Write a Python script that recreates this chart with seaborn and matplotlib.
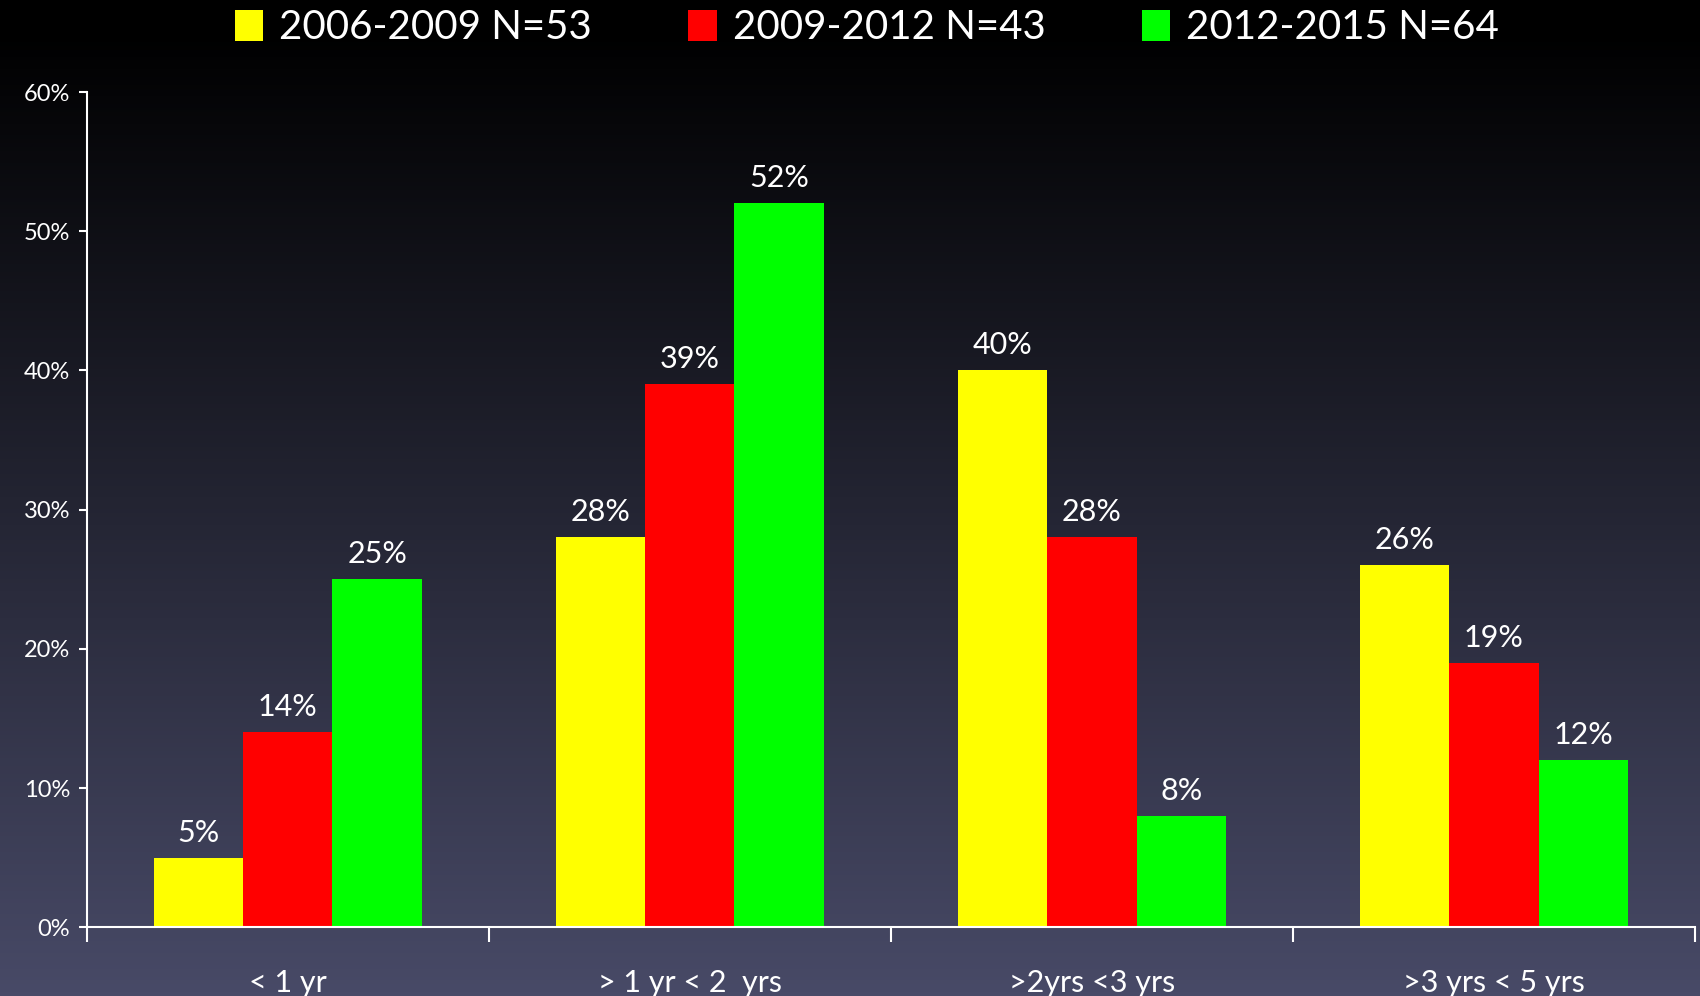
import numpy as np
import pandas as pd
import matplotlib
matplotlib.use("Agg")
import matplotlib.pyplot as plt
import seaborn as sns
from matplotlib.ticker import FixedLocator, PercentFormatter

categories = ["< 1 yr", "> 1 yr < 2  yrs", ">2yrs <3 yrs", ">3 yrs < 5 yrs"]
series_names = ["2006-2009 N=53", "2009-2012 N=43", "2012-2015 N=64"]
vals_2006 = [5, 28, 40, 26]
vals_2009 = [14, 39, 28, 19]
vals_2012 = [25, 52, 8, 12]
colors = ["#ffff00", "#ff0000", "#00ff00"]

rows = []
for name, vals in zip(series_names, [vals_2006, vals_2009, vals_2012]):
    for cat, v in zip(categories, vals):
        rows.append({"period": cat, "series": name, "pct": v})
df = pd.DataFrame(rows)

sns.set_style("dark")
plt.rcParams["font.family"] = ["Lato", "DejaVu Sans"]

fig = plt.figure(figsize=(17, 9.96), dpi=100)

# background gradient: black at top to slate blue at bottom
bg = fig.add_axes([0, 0, 1, 1], zorder=-10)
top = np.array([0, 0, 0])
bot = np.array([72, 74, 103]) / 255.0
t = np.linspace(0, 1, 256)[:, None]
t = np.clip((t - 0.03) / 0.97, 0, 1)
grad = (top * (1 - t) + bot * t)[:, None, :]
grad = np.repeat(grad, 2, axis=1)
bg.imshow(grad, aspect="auto", extent=[0, 1, 0, 1], origin="upper")
bg.axis("off")

ax = fig.add_axes([0.051, 0.069, 0.946, 0.8386])
ax.set_facecolor("none")

sns.barplot(data=df, x="period", y="pct", hue="series", palette=colors,
            width=0.667, ax=ax, saturation=1, legend=True, linewidth=0)

for cont in ax.containers:
    ax.bar_label(cont, labels=[f"{int(v)}%" for v in cont.datavalues],
                 padding=8, color="white", fontsize=22)

ax.set_ylim(0, 60)
ax.set_xlim(-0.5, 3.5)
ax.set_yticks(range(0, 61, 10))
ax.yaxis.set_major_formatter(PercentFormatter(decimals=0))
ax.xaxis.set_minor_locator(FixedLocator([-0.5, 0.5, 1.5, 2.5, 3.5]))
ax.tick_params(axis="x", which="major", bottom=True, length=0, pad=30, labelsize=22, colors="white")
ax.tick_params(axis="x", which="minor", bottom=True, length=11, width=1.5, direction="out", color="white")
ax.tick_params(axis="y", left=True, length=6, width=1.5, direction="out", labelsize=17, colors="white", pad=6)
ax.set_xlabel("")
ax.set_ylabel("")
ax.grid(False)
for s in ["top", "right"]:
    ax.spines[s].set_visible(False)
for s in ["left", "bottom"]:
    ax.spines[s].set_visible(True)
    ax.spines[s].set_color("white")
    ax.spines[s].set_linewidth(1.5)

handles, labels = ax.get_legend_handles_labels()
ax.get_legend().remove()
leg = fig.legend(handles, labels, loc="center", bbox_to_anchor=(0.51, 0.972), ncol=3,
                 frameon=False, fontsize=29, labelcolor="white", handlelength=0.7,
                 handleheight=0.8, handletextpad=0.4, columnspacing=2.4)

fig.savefig("out.png", dpi=100)
